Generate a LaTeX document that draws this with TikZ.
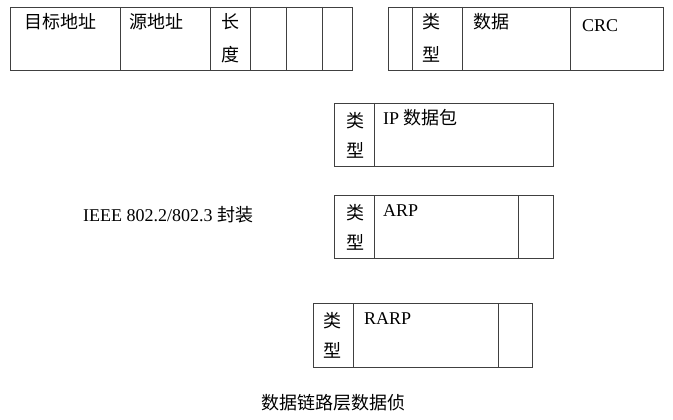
\documentclass[tikz,border=0pt]{standalone}
\usepackage{fontspec}
\setmainfont{Liberation Serif}
\newfontfamily\cjk{Noto Sans CJK SC}
\begin{document}
\begin{tikzpicture}[x=1pt,y=-1pt,
  frame/.style={draw=black!75,line width=0.8pt},
  lab/.style={anchor=base west,inner sep=0pt,font=\fontsize{18}{18}\selectfont}]
\useasboundingbox[fill=white] (0,0) rectangle (673,420);
% top-left table
\draw[frame] (10,7) rectangle (352,70);
\foreach \x in {120,210,250,286,322} \draw[frame] (\x,7) -- (\x,70);
% top-right table
\draw[frame] (388,7) rectangle (663,70);
\foreach \x in {412,462,570} \draw[frame] (\x,7) -- (\x,70);
% IP box
\draw[frame] (334,103) rectangle (553,166);
\draw[frame] (374,103) -- (374,166);
% ARP box
\draw[frame] (334,195) rectangle (553,258);
\draw[frame] (374,195) -- (374,258);
\draw[frame] (518,195) -- (518,258);
% RARP box
\draw[frame] (313,303) rectangle (532,367);
\draw[frame] (353,303) -- (353,367);
\draw[frame] (498,303) -- (498,367);
% texts
\node[lab] (dst) at (24,29) {\cjk 目标地址};
\node[lab] (src) at (129,29) {\cjk 源地址};
\node[lab] (len1) at (221,29) {\cjk 长};
\node[lab] (len2) at (221,62) {\cjk 度};
\node[lab] (typ1) at (422,29) {\cjk 类};
\node[lab] (typ2) at (422,62) {\cjk 型};
\node[lab] (data) at (473,29) {\cjk 数据};
\node[lab] (crc) at (582,31.5) {CRC};
\node[lab] (iptyp1) at (346,127.5) {\cjk 类};
\node[lab] (iptyp2) at (346,157.5) {\cjk 型};
\node[lab] (ip) at (383,124.5) {IP {\cjk 数据包}};
\node[lab] (arptyp1) at (346,219.5) {\cjk 类};
\node[lab] (arptyp2) at (346,249.5) {\cjk 型};
\node[lab] (arp) at (383,216.5) {ARP};
\node[lab] (rarptyp1) at (323,327.5) {\cjk 类};
\node[lab] (rarptyp2) at (323,357.5) {\cjk 型};
\node[lab] (rarp) at (364,324.5) {RARP};
\node[lab] (ieee) at (83,221) {IEEE 802.2/802.3 {\cjk 封装}};
\node[lab] (cap) at (261,409.5) {\cjk 数据链路层数据侦};
\end{tikzpicture}
\end{document}
